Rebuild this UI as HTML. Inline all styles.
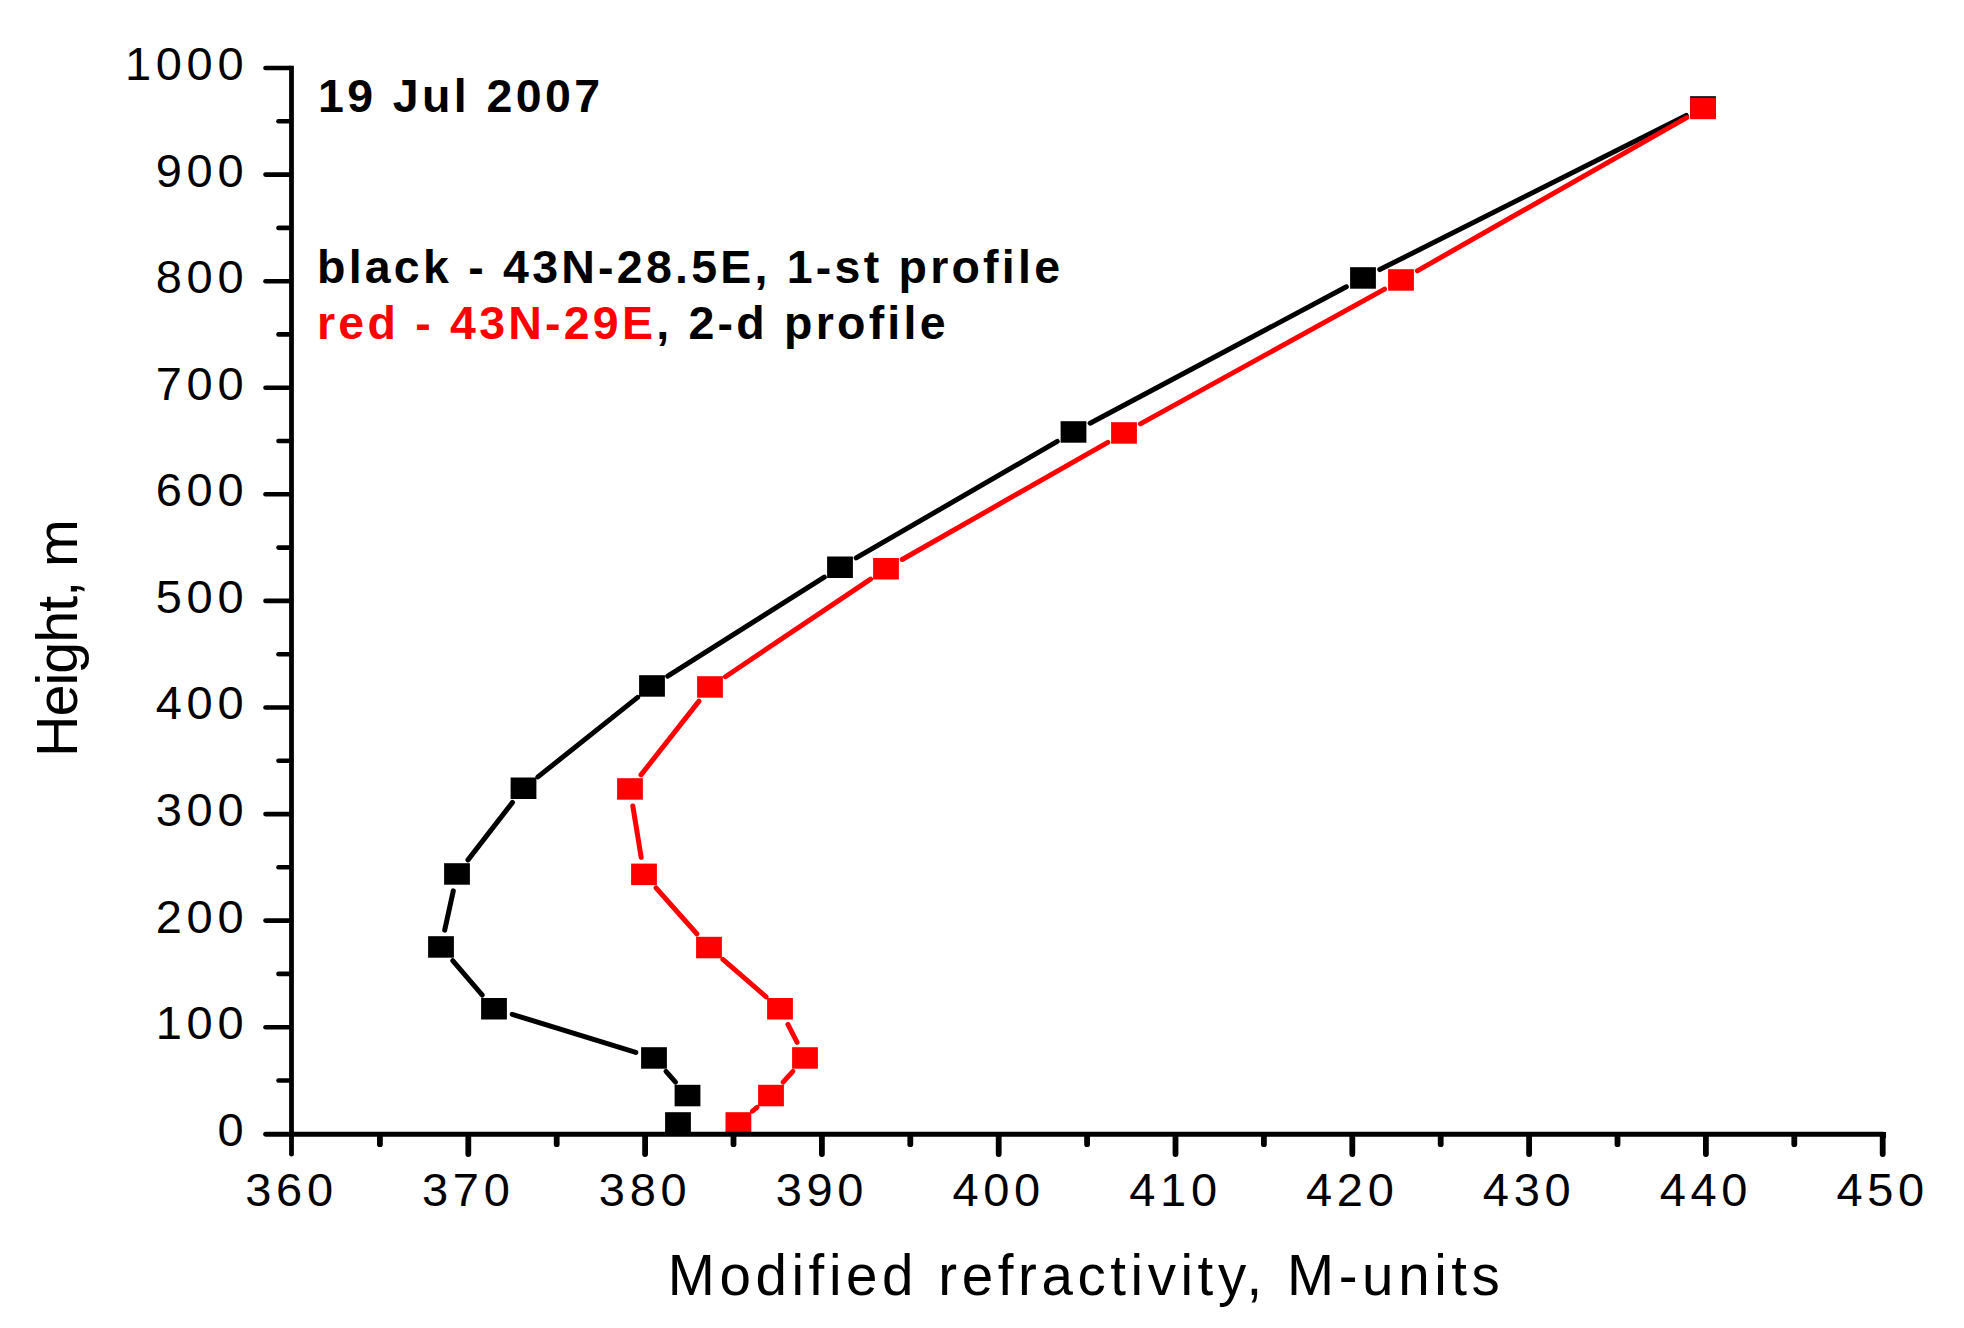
<!DOCTYPE html>
<html lang="en"><head><meta charset="utf-8"><title>Modified refractivity profiles, 19 Jul 2007</title>
<style>html,body{margin:0;padding:0;background:#fff}body{width:1964px;height:1328px;overflow:hidden}svg{display:block}text{font-family:"Liberation Sans",Arial,sans-serif;fill:#000}.b{font-weight:bold}</style></head><body>
<svg width="1964" height="1328" viewBox="0 0 1964 1328">
<rect width="1964" height="1328" fill="#fff"/>
<g font-size="47" letter-spacing="4.7">
<text x="248.3" y="1145.6" text-anchor="end">0</text>
<text x="248.3" y="1039.0" text-anchor="end">100</text>
<text x="248.3" y="932.5" text-anchor="end">200</text>
<text x="248.3" y="825.9" text-anchor="end">300</text>
<text x="248.3" y="719.4" text-anchor="end">400</text>
<text x="248.3" y="612.8" text-anchor="end">500</text>
<text x="248.3" y="506.2" text-anchor="end">600</text>
<text x="248.3" y="399.7" text-anchor="end">700</text>
<text x="248.3" y="293.1" text-anchor="end">800</text>
<text x="248.3" y="186.6" text-anchor="end">900</text>
<text x="248.3" y="80.0" text-anchor="end">1000</text>
<text x="291.5" y="1205.7" text-anchor="middle">360</text>
<text x="468.3" y="1205.7" text-anchor="middle">370</text>
<text x="645.1" y="1205.7" text-anchor="middle">380</text>
<text x="821.9" y="1205.7" text-anchor="middle">390</text>
<text x="998.7" y="1205.7" text-anchor="middle">400</text>
<text x="1175.5" y="1205.7" text-anchor="middle">410</text>
<text x="1352.3" y="1205.7" text-anchor="middle">420</text>
<text x="1529.1" y="1205.7" text-anchor="middle">430</text>
<text x="1705.9" y="1205.7" text-anchor="middle">440</text>
<text x="1882.7" y="1205.7" text-anchor="middle">450</text>
</g>
<text x="667.8" y="1294.5" font-size="56.5" textLength="832" lengthAdjust="spacing" xml:space="preserve">Modified refractivity, M-units</text>
<text transform="translate(77.2,757) rotate(-90)" font-size="57.5" textLength="238" lengthAdjust="spacing">Height, m</text>
<text class="b" x="318" y="112.3" font-size="46.5" textLength="282" lengthAdjust="spacing">19 Jul 2007</text>
<text class="b" x="317" y="282.5" font-size="46.5" textLength="743" lengthAdjust="spacing">black - 43N-28.5E, 1-st profile</text>
<text class="b" x="317" y="339" font-size="46.5" textLength="628.5" lengthAdjust="spacing"><tspan fill="#ff0000">red - 43N-29E</tspan>, 2-d profile</text>
<g stroke="#000" stroke-width="5" stroke-linecap="round" fill="none">
<line x1="675.5" y1="1082.1" x2="666.0" y2="1071.4"/>
<line x1="635.8" y1="1052.4" x2="512.2" y2="1014.3"/>
<line x1="482.3" y1="995.1" x2="452.7" y2="960.6"/>
<line x1="444.7" y1="930.1" x2="453.3" y2="890.9"/>
<line x1="468.0" y1="859.9" x2="512.5" y2="802.4"/>
<line x1="537.9" y1="776.9" x2="637.6" y2="697.4"/>
<line x1="667.7" y1="676.1" x2="824.3" y2="577.2"/>
<line x1="856.2" y1="557.9" x2="1057.3" y2="441.4"/>
<line x1="1090.1" y1="423.2" x2="1346.4" y2="286.8"/>
<line x1="1379.8" y1="269.6" x2="1686.2" y2="115.4"/>
</g>
<g fill="#000">
<rect x="665.1" y="1112.2" width="25.8" height="21.5"/>
<rect x="674.6" y="1084.8" width="25.8" height="21.5"/>
<rect x="641.1" y="1047.2" width="25.8" height="21.5"/>
<rect x="481.1" y="998.0" width="25.8" height="21.5"/>
<rect x="428.1" y="936.2" width="25.8" height="21.5"/>
<rect x="444.1" y="863.2" width="25.8" height="21.5"/>
<rect x="510.6" y="777.5" width="25.8" height="21.5"/>
<rect x="639.1" y="675.2" width="25.8" height="21.5"/>
<rect x="827.1" y="556.5" width="25.8" height="21.5"/>
<rect x="1060.6" y="421.2" width="25.8" height="21.5"/>
<rect x="1350.1" y="267.2" width="25.8" height="21.5"/>
<rect x="1690.1" y="96.2" width="25.8" height="21.5"/>
</g>
<g stroke="#ff0000" stroke-width="5" stroke-linecap="round" fill="none">
<line x1="752.4" y1="1111.2" x2="757.0" y2="1107.3"/>
<line x1="783.1" y1="1082.1" x2="792.9" y2="1071.4"/>
<line x1="797.1" y1="1042.3" x2="787.9" y2="1024.4"/>
<line x1="766.1" y1="996.8" x2="722.9" y2="959.4"/>
<line x1="697.0" y1="934.0" x2="656.0" y2="887.9"/>
<line x1="641.2" y1="857.4" x2="632.8" y2="806.0"/>
<line x1="641.0" y1="774.9" x2="699.0" y2="701.1"/>
<line x1="725.4" y1="676.7" x2="870.6" y2="579.1"/>
<line x1="902.2" y1="559.5" x2="1107.8" y2="442.3"/>
<line x1="1140.4" y1="423.9" x2="1384.6" y2="289.1"/>
<line x1="1417.3" y1="270.8" x2="1686.7" y2="117.6"/>
</g>
<g fill="#ff0000">
<rect x="725.5" y="1112.2" width="25.8" height="21.5"/>
<rect x="758.1" y="1084.8" width="25.8" height="21.5"/>
<rect x="792.1" y="1047.2" width="25.8" height="21.5"/>
<rect x="767.1" y="998.0" width="25.8" height="21.5"/>
<rect x="696.1" y="936.8" width="25.8" height="21.5"/>
<rect x="631.1" y="863.6" width="25.8" height="21.5"/>
<rect x="617.1" y="778.2" width="25.8" height="21.5"/>
<rect x="697.1" y="676.2" width="25.8" height="21.5"/>
<rect x="873.1" y="558.0" width="25.8" height="21.5"/>
<rect x="1111.1" y="422.2" width="25.8" height="21.5"/>
<rect x="1388.1" y="269.2" width="25.8" height="21.5"/>
<rect x="1690.1" y="97.7" width="25.8" height="21.5"/>
</g>
<g stroke="#000" stroke-linecap="round" fill="none">
<rect x="289.1" y="65.7" width="4.8" height="1071" fill="#000" stroke="none"/>
<line x1="265.6" y1="1134.25" x2="1883" y2="1134.25" stroke-width="4.9"/>
<rect x="1879.9" y="1131.8" width="5.8" height="5.9" fill="#000" stroke="none" shape-rendering="crispEdges"/>
<line x1="278.5" y1="1080.5" x2="290" y2="1080.5" stroke-width="4.6"/>
<line x1="265.5" y1="1027.2" x2="290" y2="1027.2" stroke-width="4.6"/>
<line x1="278.5" y1="973.9" x2="290" y2="973.9" stroke-width="4.6"/>
<line x1="265.5" y1="920.6" x2="290" y2="920.6" stroke-width="4.6"/>
<line x1="278.5" y1="867.3" x2="290" y2="867.3" stroke-width="4.6"/>
<line x1="265.5" y1="814.1" x2="290" y2="814.1" stroke-width="4.6"/>
<line x1="278.5" y1="760.8" x2="290" y2="760.8" stroke-width="4.6"/>
<line x1="265.5" y1="707.5" x2="290" y2="707.5" stroke-width="4.6"/>
<line x1="278.5" y1="654.2" x2="290" y2="654.2" stroke-width="4.6"/>
<line x1="265.5" y1="600.9" x2="290" y2="600.9" stroke-width="4.6"/>
<line x1="278.5" y1="547.6" x2="290" y2="547.6" stroke-width="4.6"/>
<line x1="265.5" y1="494.3" x2="290" y2="494.3" stroke-width="4.6"/>
<line x1="278.5" y1="441.0" x2="290" y2="441.0" stroke-width="4.6"/>
<line x1="265.5" y1="387.7" x2="290" y2="387.7" stroke-width="4.6"/>
<line x1="278.5" y1="334.4" x2="290" y2="334.4" stroke-width="4.6"/>
<line x1="265.5" y1="281.2" x2="290" y2="281.2" stroke-width="4.6"/>
<line x1="278.5" y1="227.9" x2="290" y2="227.9" stroke-width="4.6"/>
<line x1="265.5" y1="174.6" x2="290" y2="174.6" stroke-width="4.6"/>
<line x1="278.5" y1="121.3" x2="290" y2="121.3" stroke-width="4.6"/>
<line x1="265.5" y1="68.0" x2="290" y2="68.0" stroke-width="4.6"/>
<line x1="379.9" y1="1135" x2="379.9" y2="1144.2" stroke-width="5.8"/>
<line x1="468.3" y1="1135" x2="468.3" y2="1154" stroke-width="5.8"/>
<line x1="556.7" y1="1135" x2="556.7" y2="1144.2" stroke-width="5.8"/>
<line x1="645.1" y1="1135" x2="645.1" y2="1154" stroke-width="5.8"/>
<line x1="733.5" y1="1135" x2="733.5" y2="1144.2" stroke-width="5.8"/>
<line x1="821.9" y1="1135" x2="821.9" y2="1154" stroke-width="5.8"/>
<line x1="910.3" y1="1135" x2="910.3" y2="1144.2" stroke-width="5.8"/>
<line x1="998.7" y1="1135" x2="998.7" y2="1154" stroke-width="5.8"/>
<line x1="1087.1" y1="1135" x2="1087.1" y2="1144.2" stroke-width="5.8"/>
<line x1="1175.5" y1="1135" x2="1175.5" y2="1154" stroke-width="5.8"/>
<line x1="1263.9" y1="1135" x2="1263.9" y2="1144.2" stroke-width="5.8"/>
<line x1="1352.3" y1="1135" x2="1352.3" y2="1154" stroke-width="5.8"/>
<line x1="1440.7" y1="1135" x2="1440.7" y2="1144.2" stroke-width="5.8"/>
<line x1="1529.1" y1="1135" x2="1529.1" y2="1154" stroke-width="5.8"/>
<line x1="1617.5" y1="1135" x2="1617.5" y2="1144.2" stroke-width="5.8"/>
<line x1="1705.9" y1="1135" x2="1705.9" y2="1154" stroke-width="5.8"/>
<line x1="1794.3" y1="1135" x2="1794.3" y2="1144.2" stroke-width="5.8"/>
<line x1="1882.7" y1="1135" x2="1882.7" y2="1154" stroke-width="5.8"/>
<line x1="291.5" y1="1135" x2="291.5" y2="1154.2" stroke-width="4.8"/>
</g>
</svg></body></html>
